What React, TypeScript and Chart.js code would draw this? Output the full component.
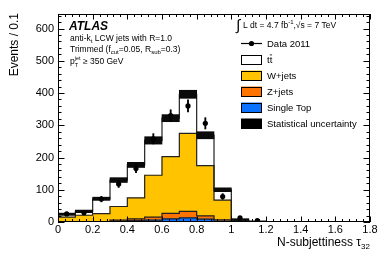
import React, { useEffect, useRef } from 'react';
import { Chart, registerables } from 'chart.js';

Chart.register(...registerables);

// ---- data ----
const binLeftEdges = [0, 0.1, 0.2, 0.3, 0.4, 0.5, 0.6, 0.7, 0.8, 0.9, 1.0, 1.1];
const binCenters = [0.05, 0.15, 0.25, 0.35, 0.45, 0.55, 0.65, 0.75, 0.85, 0.95, 1.05, 1.15];
const lastEdge = 1.2;
const singleTop = [0, 0, 0, 2, 4, 6, 10, 13, 9, 3, 0, 0];
const zJets = [0, 0, 1, 4, 6, 9, 17, 20, 10, 4, 0, 0];
const wJets = [15, 21, 25, 42, 65, 130, 176, 242, 156, 61, 5, 1];
const ttbar = [9, 12, 46, 82, 102, 108, 119, 121, 94, 32, 3, 1];
const statErr = [3.5, 4, 5, 7.5, 8, 11.5, 11, 12.5, 11, 6, 2, 1];
const data2011 = [25, 29, 71, 118, 166, 258, 330, 360, 306, 79, 13, 4];
const dataErr = [5, 5.5, 8.5, 11, 13, 16, 18, 19, 17.5, 9, 3.6, 2];
const xTickValues = [0, 0.2, 0.4, 0.6, 0.8, 1.0, 1.2, 1.4, 1.6, 1.8];
const yTickValues = [0, 100, 200, 300, 400, 500, 600];

const FAMILY = '"Liberation Sans", Arial, Helvetica, sans-serif';
const COL_W = '#ffc300';
const COL_Z = '#ff7400';
const COL_ST = '#0b72ff';
const OUTLINE = '#222';

function font(size: number, bold = false, italic = false) {
  return `${italic ? 'italic ' : ''}${bold ? 'bold ' : ''}${size}px ${FAMILY}`;
}

type Seg = { t: string; size: number; dy?: number; bold?: boolean; italic?: boolean; hold?: boolean };

function richWidth(ctx: CanvasRenderingContext2D, segs: Seg[]) {
  let w = 0, pending = 0;
  for (const s of segs) {
    ctx.font = font(s.size, s.bold, s.italic);
    const m = ctx.measureText(s.t).width;
    if (s.hold) pending = Math.max(pending, m);
    else { w += Math.max(m, pending); pending = 0; }
  }
  return w;
}

function drawRich(ctx: CanvasRenderingContext2D, x: number, y: number, segs: Seg[]) {
  let cx = x, pending = 0;
  for (const s of segs) {
    ctx.font = font(s.size, s.bold, s.italic);
    const m = ctx.measureText(s.t).width;
    ctx.fillText(s.t, cx, y + (s.dy || 0));
    if (s.hold) pending = Math.max(pending, m);
    else { cx += Math.max(m, pending); pending = 0; }
  }
  return cx;
}

function cumulative(...arrs: number[][]) {
  return arrs[0].map((_, i) => arrs.reduce((s, a) => s + a[i], 0));
}

const cumST = cumulative(singleTop);
const cumZ = cumulative(singleTop, zJets);
const cumW = cumulative(singleTop, zJets, wJets);
const cumTot = cumulative(singleTop, zJets, wJets, ttbar);

function stepLine(values: number[]) {
  const pts = binLeftEdges.map((x, i) => ({ x, y: values[i] }));
  pts.push({ x: lastEdge, y: 0 });
  return pts;
}
function barPts(values: number[]) {
  return binCenters.map((x, i) => ({ x, y: values[i] }));
}

const overlay = {
  id: 'overlay',
  afterDraw(chart: any) {
    const ctx: CanvasRenderingContext2D = chart.ctx;
    const { left, right, top, bottom } = chart.chartArea;
    const xs = chart.scales.x;
    const ys = chart.scales.y;
    ctx.save();
    ctx.strokeStyle = '#000';
    ctx.fillStyle = '#000';
    ctx.lineWidth = 1;
    // ticks (inward, all four sides)
    ctx.beginPath();
    for (let i = 0; i <= 45; i++) {
      const px = Math.round(xs.getPixelForValue(i * 0.04)) + 0.5;
      const L = i % 5 === 0 ? 5.5 : 3;
      ctx.moveTo(px, bottom); ctx.lineTo(px, bottom - L);
      ctx.moveTo(px, top); ctx.lineTo(px, top + L);
    }
    for (let i = 0; i * 20 <= 645; i++) {
      const py = Math.round(ys.getPixelForValue(i * 20)) + 0.5;
      const L = i % 5 === 0 ? 6.5 : 3.5;
      ctx.moveTo(left, py); ctx.lineTo(left + L, py);
      ctx.moveTo(right, py); ctx.lineTo(right - L, py);
    }
    ctx.stroke();
    ctx.strokeRect(left + 0.5, top + 0.5, right - left - 1, bottom - top - 1);

    ctx.textBaseline = 'alphabetic';
    ctx.textAlign = 'left';

    // y-axis title
    ctx.save();
    ctx.translate(18, 13);
    ctx.rotate(-Math.PI / 2);
    ctx.textAlign = 'right';
    ctx.font = font(12);
    ctx.fillText('Events / 0.1', 0, 0);
    ctx.restore();

    // x-axis title
    const xt: Seg[] = [
      { t: 'N-subjettiness \u03c4', size: 12 },
      { t: '32', size: 8, dy: 3.5 },
    ];
    const xw = richWidth(ctx, xt);
    drawRich(ctx, right - xw, 245.5, xt);

    // ATLAS labels
    ctx.font = font(12, true, true);
    ctx.fillText('ATLAS', 69, 29.5);
    drawRich(ctx, 70, 41, [
      { t: 'anti-k', size: 8.5 },
      { t: 't', size: 6, dy: 2 },
      { t: ' LCW jets with R=1.0', size: 8.5 },
    ]);
    drawRich(ctx, 70, 52, [
      { t: 'Trimmed (f', size: 8.5 },
      { t: 'cut', size: 6, dy: 2 },
      { t: '=0.05, R', size: 8.5 },
      { t: 'sub', size: 6, dy: 2 },
      { t: '=0.3)', size: 8.5 },
    ]);
    drawRich(ctx, 70, 64, [
      { t: 'p', size: 8.5 },
      { t: 'jet', size: 5.5, dy: -4, hold: true },
      { t: 'T', size: 5.5, dy: 2.5 },
      { t: ' \u2265 350 GeV', size: 8.5 },
    ]);

    // luminosity
    ctx.font = font(15);
    ctx.fillText('\u222b', 236, 30);
    drawRich(ctx, 243, 27.5, [
      { t: 'L dt = 4.7 fb', size: 8.5 },
      { t: '-1', size: 6, dy: -3.5 },
      { t: ',\u221as = 7 TeV', size: 8.5 },
    ]);

    // legend
    const bx = 241, bw = 21, bh = 10, tx = 267;
    const rows = [43.5, 59.5, 75.5, 91.5, 107.5, 123.5];
    // data marker
    ctx.beginPath();
    ctx.lineWidth = 1.2;
    ctx.moveTo(bx, rows[0]); ctx.lineTo(bx + bw, rows[0]);
    ctx.stroke();
    ctx.beginPath();
    ctx.arc(bx + bw / 2, rows[0], 2.6, 0, Math.PI * 2);
    ctx.fill();
    const boxes: [string, number][] = [['#ffffff', 1], [COL_W, 2], [COL_Z, 3], [COL_ST, 4], ['#000000', 5]];
    ctx.lineWidth = 1;
    for (const [c, r] of boxes) {
      const yc = rows[r];
      ctx.fillStyle = c;
      ctx.fillRect(bx, yc - bh / 2, bw, bh);
      ctx.strokeStyle = '#000';
      ctx.strokeRect(bx + 0.5, Math.round(yc - bh / 2) + 0.5, bw - 1, bh - 1);
    }
    ctx.fillStyle = '#000';
    ctx.font = font(9.5);
    ctx.fillText('Data 2011', tx, rows[0] + 3.5);
    // t t-bar
    ctx.fillText('tt', tx, rows[1] + 3.5);
    const wt = ctx.measureText('t').width;
    ctx.beginPath();
    ctx.lineWidth = 0.8;
    ctx.moveTo(tx + wt + 0.2, rows[1] - 4.6);
    ctx.lineTo(tx + 2 * wt - 0.2, rows[1] - 4.6);
    ctx.stroke();
    ctx.fillText('W+jets', tx, rows[2] + 3.5);
    ctx.fillText('Z+jets', tx, rows[3] + 3.5);
    ctx.fillText('Single Top', tx, rows[4] + 3.5);
    ctx.fillText('Statistical uncertainty', tx, rows[5] + 3.5);
    ctx.restore();
  },
};

export default function App() {
  const ref = useRef<HTMLCanvasElement>(null);
  useEffect(() => {
    const canvas = ref.current;
    if (!canvas) return;
    const outline = (values: number[], order: number) => ({
      type: 'line' as const,
      data: stepLine(values),
      stepped: true,
      borderColor: OUTLINE,
      borderWidth: 1.2,
      pointRadius: 0,
      pointHoverRadius: 0,
      fill: false,
      order,
    });
    const fillBar = (values: number[], color: string, order: number) => ({
      type: 'bar' as const,
      data: barPts(values),
      backgroundColor: color,
      borderWidth: 0,
      grouped: false,
      categoryPercentage: 1,
      barPercentage: 1,
      order,
    });
    const chart = new Chart(canvas, {
      type: 'bar',
      data: {
        datasets: [
          {
            type: 'scatter',
            data: binCenters.map((x, i) => ({ x, y: data2011[i] })),
            backgroundColor: '#000',
            borderWidth: 0,
            pointRadius: 2.6,
            order: 0,
          } as any,
          {
            type: 'bar',
            data: binCenters.map((x, i) => ({ x, y: [data2011[i] - dataErr[i], data2011[i] + dataErr[i]] })),
            backgroundColor: '#000',
            borderWidth: 0,
            barThickness: 1.2,
            grouped: false,
            order: 1,
          } as any,
          {
            type: 'bar',
            data: binCenters.map((x, i) => ({ x, y: [cumTot[i] - statErr[i], cumTot[i] + statErr[i]] })),
            backgroundColor: '#0a0a0a',
            borderWidth: 0,
            grouped: false,
            categoryPercentage: 1,
            barPercentage: 1,
            order: 2,
          } as any,
          outline(cumTot, 3),
          outline(cumW, 4),
          outline(cumZ, 5),
          outline(cumST, 6),
          fillBar(cumST, COL_ST, 7),
          fillBar(cumZ, COL_Z, 8),
          fillBar(cumW, COL_W, 9),
          fillBar(cumTot, '#ffffff', 10),
        ] as any,
      },
      options: {
        animation: false,
        responsive: false,
        devicePixelRatio: 1,
        layout: { padding: { top: 14, right: 20, left: 0, bottom: 0 } },
        plugins: { legend: { display: false }, tooltip: { enabled: false } },
        scales: {
          x: {
            type: 'linear',
            min: 0,
            max: 1.8,
            offset: false,
            grid: { display: false, drawTicks: false },
            border: { display: false },
            afterBuildTicks: (s: any) => { s.ticks = xTickValues.map((v) => ({ value: v })); },
            ticks: {
              padding: 1,
              color: '#000',
              font: { family: FAMILY, size: 11 },
              maxRotation: 0,
              autoSkip: false,
              callback: (v: any) => String(parseFloat(Number(v).toFixed(1))),
            },
            afterFit: (s: any) => { s.height = 43; },
          },
          y: {
            type: 'linear',
            min: 0,
            max: 645,
            grid: { display: false, drawTicks: false },
            border: { display: false },
            afterBuildTicks: (s: any) => { s.ticks = yTickValues.map((v) => ({ value: v })); },
            ticks: {
              padding: 4,
              color: '#000',
              font: { family: FAMILY, size: 11 },
              autoSkip: false,
              callback: (v: any) => String(v),
            },
            afterFit: (s: any) => { s.width = 58; },
          },
        },
      } as any,
      plugins: [overlay],
    });
    return () => chart.destroy();
  }, []);
  return (
    <div style={{ position: 'absolute', left: 0, top: 0, width: 390, height: 265, background: '#fff' }}>
      <canvas ref={ref} width={390} height={265} style={{ display: 'block', width: 390, height: 265 }} />
    </div>
  );
}
